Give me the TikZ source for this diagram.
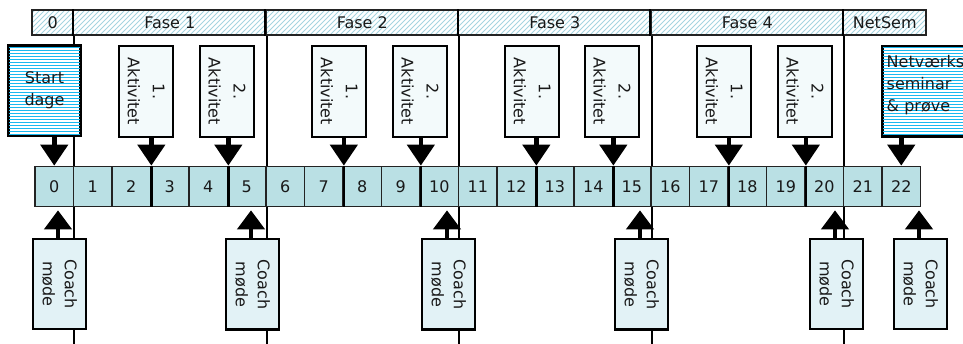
\documentclass[tikz,border=0pt]{standalone}
\usepackage{fontspec}
\setmainfont{DejaVu Sans}
\usetikzlibrary{arrows.meta}
\definecolor{cellfill}{RGB}{186,224,228}
\definecolor{hatch}{RGB}{165,212,224}
\definecolor{stripe}{RGB}{25,185,240}
\definecolor{actfill}{RGB}{243,250,251}
\definecolor{coachfill}{RGB}{226,242,246}
\definecolor{edge}{RGB}{35,35,35}
\begin{document}
\begin{tikzpicture}[x=1pt,y=-1pt,
  every node/.style={font=\fontsize{16}{22}\selectfont, text=black!90},
  hdr/.style={draw=edge, line width=1.5pt, minimum height=25pt, inner sep=0pt},
  cell/.style={draw=edge, line width=1.7pt, fill=cellfill, minimum width=38.5pt, minimum height=40pt, inner sep=0pt},
  box/.style={draw=black, line width=2pt, inner sep=0pt},
  actbox/.style={box, fill=actfill, minimum width=54pt, minimum height=91pt},
  coachbox/.style={box, fill=coachfill, minimum width=53pt, minimum height=90pt},
  bluebox/.style={box, fill=white, minimum height=89pt},
  rtext/.style={rotate=-90, align=center, inner sep=0pt},
  acttext/.style={rtext, font=\fontsize{16}{25}\selectfont},
  phase/.style={line width=1.6pt, black},
  fatdown/.style={line width=4.5pt, black, -{Triangle[width=27pt,length=21pt]}},
  fatup/.style={line width=4.5pt, black, -{Triangle[width=27pt,length=19pt]}, shorten >=3pt},
  bnd/.style={line width=2.4pt, black},
  stripes/.style={stripe, line width=1.8pt}
]
\useasboundingbox (0,0) rectangle (963,344);
\clip (0,0) rectangle (963,344);
\coordinate (bot) at (0,344);

% header hatch
\begin{scope}
  \clip (32,10) rectangle (926,35);
  \foreach \i in {0,...,200}
    \draw[hatch, line width=0.8pt] ({\i*5},35) -- ({\i*5+25},10);
\end{scope}
% header
\node[hdr, minimum width=41.5pt] (h0) at (52.75,22.5) {0};
\node[hdr, minimum width=192.5pt] (h1) at (169.75,22.5) {Fase 1};
\node[hdr, minimum width=192.5pt] (h2) at (362.25,22.5) {Fase 2};
\node[hdr, minimum width=192.5pt] (h3) at (554.75,22.5) {Fase 3};
\node[hdr, minimum width=192.5pt] (h4) at (747.25,22.5) {Fase 4};
\node[hdr, minimum width=82.5pt] (h5) at (884.75,22.5) {NetSem};
\foreach \h in {h1,h2,h3,h4,h5}
  \draw[line width=2.4pt, black] (\h.north west) -- (\h.south west);

% phase lines
\foreach \h in {h0,h1,h2,h3,h4}
  \draw[phase] (\h.south east) -- (\h.south east |- bot);

% cells
\foreach \k in {0,...,22}
  \node[cell] (c\k) at ({35+38.5*(\k+0.5)},186.5) {\k};
\foreach \k in {2,4,7,9,12,14,17,19}
  \draw[bnd] (c\k.north east) -- (c\k.south east);

% blue striped boxes
\node[bluebox, minimum width=71pt] (start) at (44.5,90.5) {};
\node[bluebox, minimum width=95pt, anchor=north west] (net) at (882,46) {};
\foreach \b in {start,net}{
  \begin{scope}
    \clip (\b.north west) rectangle (\b.south east);
    \foreach \y in {47.5,50.5,...,136}
      \draw[stripes] (0,\y) -- (963,\y);
  \end{scope}
  \draw[line width=2pt, black] (\b.north west) rectangle (\b.south east);
}
\node[align=center, inner sep=0pt] (startt) at (start) {Start\\dage};
\node[anchor=north west, align=left, inner sep=0pt] (nett) at (886.5,55) {Netværks\\seminar\\\& prøve};

% activity boxes
\node[actbox] (f1a) at (146,91.5) {};
\node[actbox] (f1b) at (227,91.5) {};
\node[actbox] (f2a) at (339,91.5) {};
\node[actbox] (f2b) at (420,91.5) {};
\node[actbox] (f3a) at (532,91.5) {};
\node[actbox] (f3b) at (612,91.5) {};
\node[actbox] (f4a) at (724,91.5) {};
\node[actbox] (f4b) at (805,91.5) {};
\node[acttext] (f1at) at (f1a) {1.\\Aktivitet};
\node[acttext] (f1bt) at (f1b) {2.\\Aktivitet};
\node[acttext] (f2at) at (f2a) {1.\\Aktivitet};
\node[acttext] (f2bt) at (f2b) {2.\\Aktivitet};
\node[acttext] (f3at) at (f3a) {1.\\Aktivitet};
\node[acttext] (f3bt) at (f3b) {2.\\Aktivitet};
\node[acttext] (f4at) at (f4a) {1.\\Aktivitet};
\node[acttext] (f4bt) at (f4b) {2.\\Aktivitet};

% top arrows
\draw[fatdown] (c0 |- start.south) -- (c0.north);
\draw[fatdown] (c2.north east |- f1a.south) -- (c2.north east);
\draw[fatdown] (c4.north east |- f1b.south) -- (c4.north east);
\draw[fatdown] (c7.north east |- f2a.south) -- (c7.north east);
\draw[fatdown] (c9.north east |- f2b.south) -- (c9.north east);
\draw[fatdown] (c12.north east |- f3a.south) -- (c12.north east);
\draw[fatdown] (c14.north east |- f3b.south) -- (c14.north east);
\draw[fatdown] (c17.north east |- f4a.south) -- (c17.north east);
\draw[fatdown] (c19.north east |- f4b.south) -- (c19.north east);
\draw[fatdown] (c22 |- net.south) -- (c22.north);

% coach boxes
\node[coachbox] (m1) at (59.5,284) {};
\node[coachbox] (m2) at (252.5,284.5) {};
\node[coachbox] (m3) at (448.5,284.5) {};
\node[coachbox] (m4) at (641.5,284.5) {};
\node[coachbox] (m5) at (836.5,284) {};
\node[coachbox] (m6) at (920.5,284) {};
\foreach \m in {m1,m2,m3,m4,m5,m6}{
  \node[rtext] (\m t) at (\m) {Coach\\møde};
  \coordinate (\m a) at ([xshift=-1.5pt]\m.north);
}
\draw[fatup] (m1a) -- (m1a |- c0.south);
\draw[fatup] (m2a) -- (m2a |- c5.south);
\draw[fatup] (m3a) -- (m3a |- c10.south);
\draw[fatup] (m4a) -- (m4a |- c15.south);
\draw[fatup] (m5a) -- (m5a |- c20.south);
\draw[fatup] (m6a) -- (m6a |- c22.south);
\end{tikzpicture}
\end{document}
